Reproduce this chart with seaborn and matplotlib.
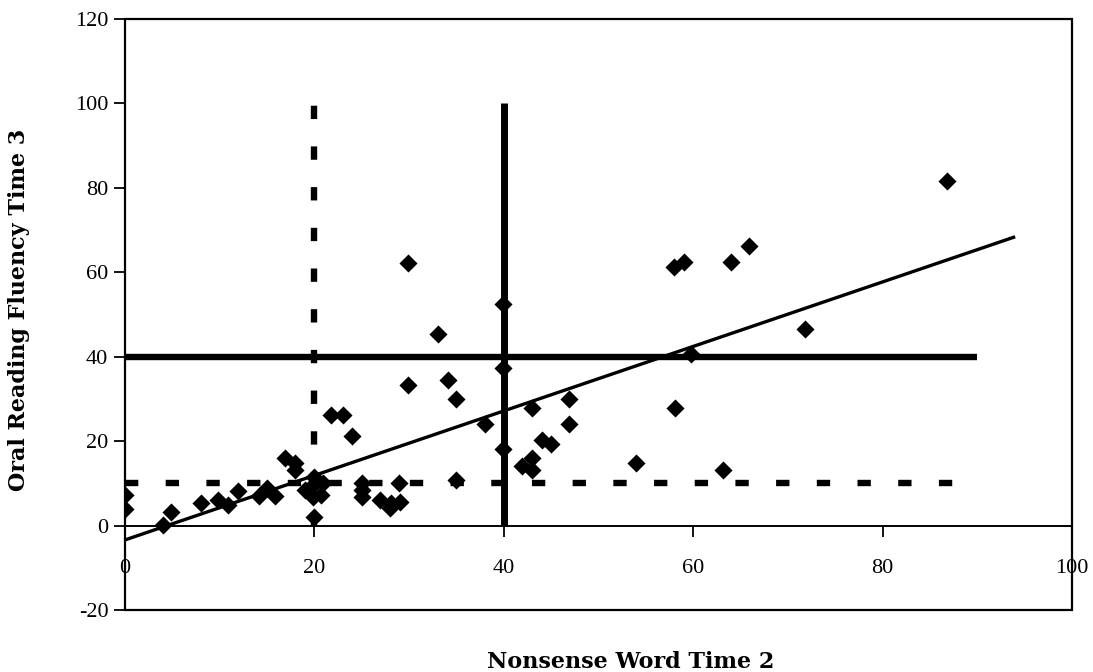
import numpy as np
import pandas as pd
import matplotlib
matplotlib.use("Agg")
import matplotlib.pyplot as plt
import seaborn as sns
from matplotlib.patches import Rectangle

# ---------------- data ----------------
nwf_time2 = [0, 0, 4.0, 4.9, 8.0, 9.8, 10.9, 11.9, 14.1, 15.0, 15.8,
             16.9, 18.0, 18.0, 19.0, 19.9, 20.0, 19.8, 20.9, 20.7, 20.0,
             21.8, 23.0, 24.0,
             25.0, 25.0, 25.0, 26.9, 28.0, 28.1, 29.0, 28.9,
             29.9, 39.9, 33.0, 39.9, 29.9, 34.1, 35.0, 38.0, 43.0, 46.9,
             46.9, 44.0, 45.0, 39.9, 43.0, 41.9, 43.0, 35.0,
             86.8, 58.0, 59.0, 64.0, 65.9, 71.8, 59.8, 58.1, 54.0, 63.1]
orf_time3 = [7.3, 3.9, 0.1, 3.1, 5.3, 6.1, 4.9, 8.3, 7.0, 8.8, 7.0,
             15.9, 14.8, 13.2, 8.4, 6.8, 11.6, 9.6, 10.0, 7.2, 2.1,
             26.2, 26.2, 21.2,
             10.0, 8.4, 6.8, 6.1, 4.1, 5.3, 5.7, 10.0,
             62.3, 52.5, 45.3, 37.3, 33.3, 34.5, 29.9, 24.1, 27.9, 30.1,
             24.1, 20.3, 19.3, 18.1, 15.9, 14.2, 13.2, 10.8,
             81.6, 61.3, 62.4, 62.4, 66.2, 46.6, 40.7, 27.9, 14.9, 13.2]

x_ticks = [0, 20, 40, 60, 80, 100]
y_ticks = [-20, 0, 20, 40, 60, 80, 100, 120]
x_limits = [0, 100]
y_limits = [-20, 120]

# benchmark reference lines
nwf_cut_low = 20      # dashed vertical
nwf_cut_high = 40     # solid vertical
orf_cut_low = 10      # dashed horizontal
orf_cut_high = 40     # solid horizontal
vline_span = [0, 100]
hline_span = [0, 90]

# linear trend line
trend_intercept = -3.4
trend_slope = 0.764
trend_x_span = [0, 94]

x_label = "Nonsense Word Time 2"
y_label = "Oral Reading Fluency Time 3"

# ---------------- style ----------------
sns.set_theme(style="white")
plt.rcParams["font.family"] = ["Liberation Serif", "DejaVu Serif"]
plt.rcParams["axes.unicode_minus"] = False
plt.rcParams["lines.scale_dashes"] = False

W, H = 1093, 672
fig = plt.figure(figsize=(W / 100, H / 100), dpi=100)
L, R, T, B = 125, 1072, 19, 610
ax = fig.add_axes([L / W, 1 - B / H, (R - L) / W, (B - T) / H])

df = pd.DataFrame({"nwf": nwf_time2, "orf": orf_time3})

dash = (0, (9.6, 19.7))
# vertical benchmark lines
ax.plot([nwf_cut_low] * 2, vline_span, color="black", lw=4.6,
        linestyle=dash, dash_capstyle="butt", zorder=2)
ax.plot([nwf_cut_high] * 2, vline_span, color="black", lw=5.0,
        solid_capstyle="butt", zorder=2)
# horizontal benchmark lines
ax.plot(hline_span, [orf_cut_low] * 2, color="black", lw=4.6,
        linestyle=dash, dash_capstyle="butt", zorder=2)
ax.plot(hline_span, [orf_cut_high] * 2, color="black", lw=4.6,
        solid_capstyle="butt", zorder=2)

# trend line
tx = np.array(trend_x_span, dtype=float)
ax.plot(tx, trend_intercept + trend_slope * tx, color="black", lw=2.4,
        solid_capstyle="butt", zorder=2.5)

sns.scatterplot(data=df, x="nwf", y="orf", marker="D", s=85, color="black",
                edgecolor="black", linewidth=0, ax=ax, zorder=3, legend=False)

ax.set_xlim(*x_limits)
ax.set_ylim(*y_limits)
ax.set_xticks(x_ticks)
ax.set_yticks(y_ticks)
ax.set_xticklabels([str(v) for v in x_ticks])
ax.set_yticklabels([str(v) for v in y_ticks])

for s in ["top", "right"]:
    ax.spines[s].set_visible(False)
ax.spines["bottom"].set_position(("data", 0))
for s in ["bottom", "left"]:
    ax.spines[s].set_color("black")
    ax.spines[s].set_linewidth(1.4)
ax.add_patch(Rectangle((0, 0), 1, 1, transform=ax.transAxes, fill=False,
                       edgecolor="black", linewidth=1.6, clip_on=False, zorder=4))

ax.tick_params(axis="x", bottom=True, direction="out", length=8, width=1.3,
               pad=16, labelsize=16, colors="black")
ax.tick_params(axis="y", left=True, direction="out", length=8, width=1.3,
               pad=4, labelsize=16, colors="black")

ax.set_xlabel(x_label, fontsize=16, fontweight="bold", family=["DejaVu Serif"],
              color="black")
ax.xaxis.set_label_coords((631 - L) / (R - L), (B - 651) / (B - T))
ax.set_ylabel(y_label, fontsize=16, fontweight="bold", family=["DejaVu Serif"],
              color="black")
ax.yaxis.set_label_coords((30 - L) / (R - L), (B - 310) / (B - T))

fig.savefig("out.png", dpi=100, facecolor="white")
